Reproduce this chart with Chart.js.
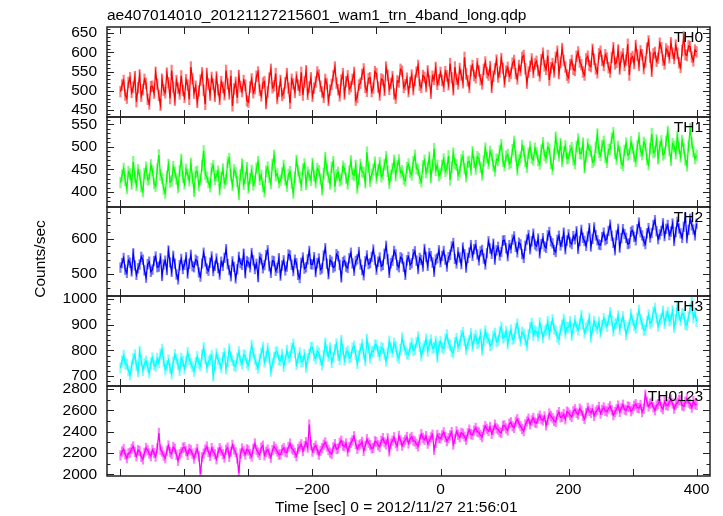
<!DOCTYPE html>
<html>
<head>
<meta charset="utf-8">
<script src="https://cdn.jsdelivr.net/npm/chart.js@4.4.1/dist/chart.umd.min.js"></script>
<style>
html,body{margin:0;padding:0;background:#fff;}
#wrap{position:relative;width:723px;height:516px;overflow:hidden;font-family:"Liberation Sans",Arial,sans-serif;color:#000;}
#wrap canvas{position:absolute;left:0;}
.txt{position:absolute;font-size:15.5px;line-height:1;white-space:nowrap;}
</style>
</head>
<body>
<div id="wrap">
  <canvas id="c0" width="723" height="114"></canvas>
  <canvas id="c1" width="723" height="114"></canvas>
  <canvas id="c2" width="723" height="113"></canvas>
  <canvas id="c3" width="723" height="114"></canvas>
  <canvas id="c4" width="723" height="142"></canvas>
  <div class="txt" style="left:107px;top:7px;">ae407014010_20121127215601_wam1_trn_4band_long.qdp</div>
  <div class="txt" style="left:275px;top:499px;">Time [sec] 0 = 2012/11/27 21:56:01</div>
</div>
<script>
// ---- time grid (seconds from 2012/11/27 21:56:01) ----
const tStart = -500;
const tStep = 2.5;

// ---- series (counts/sec), one value per time bin ----
const th0 = [
498,515,527,489,481,522,534,496,509,537,472,508,541,486,503,530,519,478,466,511,
512,494,548,517,488,463,530,502,495,546,521,480,553,509,476,527,507,492,539,501,
483,529,515,478,562,531,494,512,470,500,528,547,501,465,545,518,489,535,517,486,
536,503,478,524,509,490,553,518,492,539,461,505,522,482,540,511,498,527,515,474,
471,510,531,495,506,538,549,502,487,520,524,467,497,533,556,508,513,545,480,499,
527,488,494,521,545,507,468,530,518,496,536,515,501,548,489,523,552,491,510,534,
486,507,523,549,541,512,497,483,530,518,475,502,517,539,562,520,503,487,528,545,
492,524,539,505,511,530,548,476,483,515,520,543,557,509,499,532,534,498,507,550,
545,510,489,531,528,501,562,540,504,519,537,492,481,526,523,556,551,509,516,533,
498,522,541,503,527,549,566,515,509,540,535,511,552,526,494,538,530,561,517,529,
548,527,512,550,539,516,571,534,503,562,530,518,558,541,521,587,544,526,509,553,
566,540,534,571,552,529,518,556,575,547,541,563,509,538,557,580,536,549,584,558,
523,551,561,538,546,572,579,545,531,566,553,587,592,557,520,549,564,583,548,570,
577,553,539,581,598,565,556,592,528,560,571,549,587,603,545,574,610,579,562,541,
534,568,579,556,553,590,601,575,568,549,541,583,590,566,563,608,582,557,547,596,
603,579,566,594,585,560,549,587,612,570,574,606,557,588,596,566,580,621,541,584,
589,571,618,593,566,604,594,558,575,611,630,587,551,596,600,577,585,624,612,580,
570,609,603,586,625,598,584,619,598,573,561,605,640,594,592,617,615,588,578,606,
601];

const th1 = [
421,437,452,426,408,445,440,418,467,433,415,449,438,412,401,441,455,427,429,460,
447,419,413,451,482,438,430,407,398,435,461,422,425,456,444,429,410,447,472,433,
418,450,439,425,463,431,402,444,446,414,427,459,491,440,433,421,412,452,458,428,
436,446,405,432,451,420,428,466,474,437,415,449,443,423,395,438,462,417,431,454,
409,430,448,416,425,453,467,428,437,412,401,446,455,433,419,461,481,436,440,421,
426,442,459,427,413,439,445,420,398,433,470,447,432,415,451,462,417,444,438,426,
463,436,421,452,447,429,405,441,476,450,433,418,455,467,412,438,444,425,428,457,
452,431,418,446,469,440,437,459,409,428,461,445,443,421,488,455,424,439,450,466,
431,449,465,434,440,461,478,446,419,437,452,470,436,458,471,443,447,429,425,454,
462,444,438,467,481,452,449,431,423,458,470,443,455,477,432,460,496,448,459,436,
441,459,473,446,452,480,427,455,486,463,460,438,445,471,479,452,434,466,468,449,
489,466,451,478,474,455,438,469,497,476,463,490,482,458,447,473,470,492,505,468,
458,479,483,462,466,494,512,480,449,471,477,503,491,468,455,486,500,475,471,497,
487,470,462,493,509,481,476,499,495,463,451,484,521,496,480,507,468,489,502,474,
475,492,498,471,463,501,517,486,485,508,454,479,506,493,490,466,470,499,528,488,
481,503,512,477,466,494,495,519,531,486,473,501,489,464,459,492,508,482,484,511,
497,479,468,502,520,491,483,510,505,472,461,496,529,487,490,515,474,501,513,482,
486,512,534,493,470,507,501,485,523,497,478,514,496,471,458,502,540,509,489,474,
481];

const th2 = [
518,531,546,512,503,539,532,507,559,524,497,516,527,549,541,510,489,528,535,506,
512,537,550,519,521,545,494,527,538,511,567,533,506,552,529,498,484,525,543,514,
526,548,501,529,555,522,519,541,537,504,492,530,561,536,515,509,532,550,508,523,
544,517,498,535,523,546,571,528,511,493,536,520,487,513,549,531,526,558,502,537,
533,519,560,539,514,529,491,547,542,516,525,554,568,522,503,538,536,509,517,545,
495,524,539,510,521,556,553,526,508,541,531,497,488,532,547,515,519,542,566,528,
527,548,505,531,544,512,516,553,574,529,499,540,535,518,522,557,551,526,490,534,
538,521,517,545,561,530,509,537,542,563,527,511,496,536,553,528,531,549,570,540,
512,535,547,522,526,558,581,542,503,531,538,566,556,525,519,548,544,520,497,539,
549,526,531,557,565,538,514,546,540,521,572,549,523,560,551,533,506,541,545,568,
534,552,566,541,521,548,555,579,589,543,530,562,547,528,576,557,518,546,561,583,
552,571,583,556,539,565,569,544,527,560,594,573,558,587,541,568,578,553,563,596,
597,574,551,583,574,599,608,578,562,590,585,557,546,581,599,612,571,594,616,585,
580,602,559,586,603,579,575,611,621,594,588,569,563,598,610,582,592,619,571,596,
614,591,586,609,600,623,572,595,627,604,595,581,608,632,579,601,634,611,597,585,
583,606,619,597,601,624,642,610,590,568,612,630,576,603,629,615,604,586,588,621,
625,607,597,629,648,620,611,594,586,617,632,605,618,641,655,623,600,614,624,646,
609,630,641,612,622,645,595,621,650,631,617,604,636,662,603,627,659,640,628,611,
645];

const th3 = [
732,759,781,748,746,721,705,740,768,783,741,717,796,761,722,749,759,736,713,752,
771,744,738,769,752,786,804,757,726,741,763,731,709,755,784,766,745,722,770,758,
728,756,792,765,751,737,719,753,776,749,740,782,811,768,734,758,765,779,701,743,
787,764,750,732,773,789,728,757,806,775,761,742,737,770,795,760,748,783,779,751,
742,778,820,789,766,745,731,767,789,812,754,776,808,771,719,750,772,793,795,764,
760,785,738,763,801,772,777,808,825,792,745,770,791,756,758,784,734,769,786,811,
812,779,767,798,790,762,744,781,829,797,776,810,753,774,803,826,781,765,839,804,
762,791,798,770,775,809,817,784,749,779,806,824,786,760,843,810,770,797,795,821,
821,796,780,812,807,785,758,790,836,811,793,828,814,779,770,805,849,818,802,787,
785,810,828,799,804,831,853,815,779,806,818,844,797,822,841,808,812,836,774,817,
834,812,806,843,861,828,819,796,790,831,847,815,825,858,870,837,803,826,839,866,
816,845,858,826,832,864,801,839,876,850,844,819,822,857,867,833,838,872,891,848,
853,874,825,856,880,843,847,885,903,866,836,871,864,841,819,862,889,906,858,877,
872,855,907,883,849,875,881,912,861,893,920,884,876,852,843,879,898,921,867,889,
890,912,858,886,915,893,879,904,936,901,868,887,897,925,851,883,913,894,884,910,
868,897,924,906,893,918,947,915,875,902,906,934,882,909,931,897,861,889,899,941,
917,897,886,925,956,921,903,878,879,912,938,905,911,949,964,926,894,917,925,953,
905,933,948,914,921,954,889,920,972,937,916,944,940,901,898,931,961,986,927,946,
912];

const th0123 = [
2178,2214,2236,2187,2152,2198,2205,2240,2263,2211,2170,2228,2219,2165,2141,2203,2248,2226,2196,2171,
2230,2201,2167,2245,2389,2232,2214,2176,2153,2222,2271,2209,2192,2257,2240,2183,2128,2190,2207,2249,
2255,2218,2183,2239,2226,2195,2149,2204,2238,2170,2002,2161,2196,2233,2261,2210,2174,2246,2215,2189,
2142,2206,2247,2222,2190,2158,2231,2252,2165,2213,2278,2234,2208,2150,2012,2196,2243,2217,2187,2235,
2224,2193,2168,2241,2290,2229,2206,2183,2251,2270,2179,2212,2233,2196,2157,2228,2262,2240,2215,2186,
2188,2229,2247,2213,2205,2258,2289,2244,2230,2201,2172,2238,2261,2282,2219,2265,2303,2251,2468,2276,
2214,2247,2270,2232,2186,2221,2248,2279,2301,2262,2229,2205,2192,2253,2284,2238,2243,2296,2317,2271,
2262,2291,2215,2257,2296,2320,2358,2285,2240,2272,2283,2306,2221,2268,2330,2297,2275,2244,2249,2311,
2305,2274,2258,2315,2340,2301,2282,2339,2216,2289,2317,2348,2293,2266,2361,2320,2270,2302,2324,2351,
2291,2334,2352,2318,2310,2287,2263,2328,2377,2344,2325,2360,2289,2316,2347,2373,2230,2296,2370,2342,
2338,2367,2395,2351,2312,2340,2366,2398,2280,2333,2404,2372,2349,2390,2381,2355,2325,2386,2420,2378,
2372,2411,2436,2402,2395,2369,2350,2418,2452,2427,2408,2445,2381,2414,2467,2433,2421,2398,2389,2456,
2460,2432,2412,2476,2489,2452,2437,2495,2518,2480,2453,2427,2406,2469,2497,2523,2471,2506,2530,2488,
2482,2525,2551,2519,2506,2544,2460,2512,2572,2547,2528,2503,2493,2558,2585,2536,2541,2567,2517,2590,
2580,2556,2539,2592,2611,2578,2563,2617,2598,2551,2520,2574,2625,2596,2577,2610,2549,2588,2603,2634,
2571,2605,2628,2597,2590,2619,2640,2603,2556,2585,2612,2646,2587,2621,2654,2609,2601,2638,2632,2593,
2611,2644,2659,2626,2623,2651,2585,2617,2748,2680,2638,2664,2675,2629,2602,2647,2660,2693,2631,2612,
2684,2652,2646,2679,2703,2666,2617,2655,2672,2701,2695,2648,2639,2682,2710,2674,2661,2627,2688,2659,
2652];

// typical 1-sigma error bar per panel (counts/sec)
const yErr = [14, 12, 14, 20, 45];

// ---- axis ticks ----
const xLabelTicks = [-400, -200, 0, 200, 400];
const xMarkTicks = [-500, -400, -300, -200, -100, 0, 100, 200, 300, 400];
const panelNames = ["TH0", "TH1", "TH2", "TH3", "TH0123"];
const yLabelTicks = [
  [450, 500, 550, 600, 650],
  [400, 450, 500, 550],
  [500, 600],
  [700, 800, 900, 1000],
  [2000, 2200, 2400, 2600, 2800]
];
const yMinorStep = [10, 10, 20, 20, 100];
const yRanges = [[432, 666], [367, 566], [436, 693], [662, 1011], [1985, 2830]];
const xRange = [-521, 421];
const yTitle = "Counts/sec";

// ---- styling / layout ----
const seriesList = [th0, th1, th2, th3, th0123];
const colors = ["#ff0000", "#00ff00", "#0000ff", "#00ffff", "#ff00ff"];
const halos = ["rgba(255,0,0,0.5)", "rgba(0,255,0,0.5)", "rgba(0,0,255,0.5)", "rgba(0,255,255,0.5)", "rgba(255,0,255,0.5)"];
const panelTops = [27, 117, 207, 296, 386];
const PAD = 12;
const FONT = '"Liberation Sans", Arial, sans-serif';
const FSIZE = 15.5;

const times = seriesList[0].map((_, k) => tStart + k * tStep);

function fmt(v) { return v < 0 ? "\u2212" + Math.abs(v) : String(v); }

const framePlugin = {
  id: "panelFrame",
  afterDatasetsDraw(chart, args, opts) {
    const ctx = chart.ctx, a = chart.chartArea;
    const xs = chart.scales.x, ys = chart.scales.y;
    ctx.save();
    ctx.strokeStyle = "#222";
    ctx.lineWidth = 1;
    ctx.beginPath();
    xMarkTicks.forEach(v => {
      const px = Math.round(xs.getPixelForValue(v)) + 0.5;
      ctx.moveTo(px, a.top); ctx.lineTo(px, a.top + 7);
      ctx.moveTo(px, a.bottom); ctx.lineTo(px, a.bottom - 7);
    });
    const st = opts.minor;
    for (let v = Math.ceil(ys.min / st) * st; v <= ys.max; v += st) {
      const major = opts.major.includes(v);
      const len = major ? 7 : 3.5;
      const py = Math.round(ys.getPixelForValue(v)) + 0.5;
      ctx.moveTo(a.left, py); ctx.lineTo(a.left + len, py);
      ctx.moveTo(a.right, py); ctx.lineTo(a.right - len, py);
    }
    ctx.stroke();
    ctx.lineWidth = 1.5;
    ctx.strokeRect(a.left, a.top, a.right - a.left, a.bottom - a.top);
    ctx.font = FSIZE + "px " + FONT;
    ctx.fillStyle = "#000";
    ctx.textAlign = "right";
    ctx.textBaseline = "middle";
    ctx.fillText(opts.label, 703, a.top + 11);
    if (opts.yTitle) {
      const canvasTop = parseFloat(chart.canvas.style.top);
      ctx.translate(41, 259 - canvasTop);
      ctx.rotate(-Math.PI / 2);
      ctx.textAlign = "center";
      ctx.fillText(opts.yTitle, 0, 0);
    }
    ctx.restore();
  }
};

seriesList.forEach((vals, i) => {
  const isBottom = i === 4;
  const canvas = document.getElementById("c" + i);
  const top = panelTops[i] - PAD;
  const bottom = isBottom ? 516 : panelTops[i + 1] + PAD;
  canvas.style.top = top + "px";
  canvas.height = bottom - top;
  const pts = times.map((t, k) => ({ x: t, y: vals[k] }));
  const bars = times.map((t, k) => ({ x: t, y: [vals[k] - yErr[i], vals[k] + yErr[i]] }));
  new Chart(canvas, {
    data: {
      datasets: [
        { type: "line", data: pts, borderColor: colors[i], borderWidth: 1.3, pointRadius: 0, tension: 0, clip: 0, order: 0 },
        { type: "bar", data: bars, backgroundColor: halos[i], borderWidth: 0, barThickness: 1.6, grouped: false, clip: 0, order: 1 }
      ]
    },
    options: {
      responsive: false,
      animation: false,
      devicePixelRatio: 1,
      events: [],
      layout: { padding: { left: 0, right: 13, top: PAD, bottom: isBottom ? 0 : PAD } },
      plugins: {
        legend: { display: false },
        tooltip: { enabled: false },
        panelFrame: { label: panelNames[i], minor: yMinorStep[i], major: yLabelTicks[i], yTitle: i === 2 ? yTitle : null }
      },
      scales: {
        x: {
          type: "linear",
          min: xRange[0], max: xRange[1],
          offset: false,
          display: isBottom,
          grid: { display: false, drawTicks: false, offset: false },
          border: { display: false },
          afterBuildTicks: s => { s.ticks = xLabelTicks.map(v => ({ value: v })); },
          afterFit: s => { if (isBottom) s.height = 40; s.paddingLeft = 0; s.paddingRight = 0; },
          ticks: { autoSkip: false, maxRotation: 0, padding: 4, color: "#000", font: { family: FONT, size: FSIZE }, callback: v => fmt(v) }
        },
        y: {
          type: "linear",
          min: yRanges[i][0], max: yRanges[i][1],
          grid: { display: false, drawTicks: false },
          border: { display: false },
          afterBuildTicks: s => { s.ticks = yLabelTicks[i].map(v => ({ value: v })); },
          afterFit: s => { s.width = 107; s.paddingTop = 0; s.paddingBottom = 0; },
          ticks: { autoSkip: false, padding: 10, color: "#000", font: { family: FONT, size: FSIZE }, callback: v => String(v) }
        }
      }
    },
    plugins: [framePlugin]
  });
});
</script>
</body>
</html>
